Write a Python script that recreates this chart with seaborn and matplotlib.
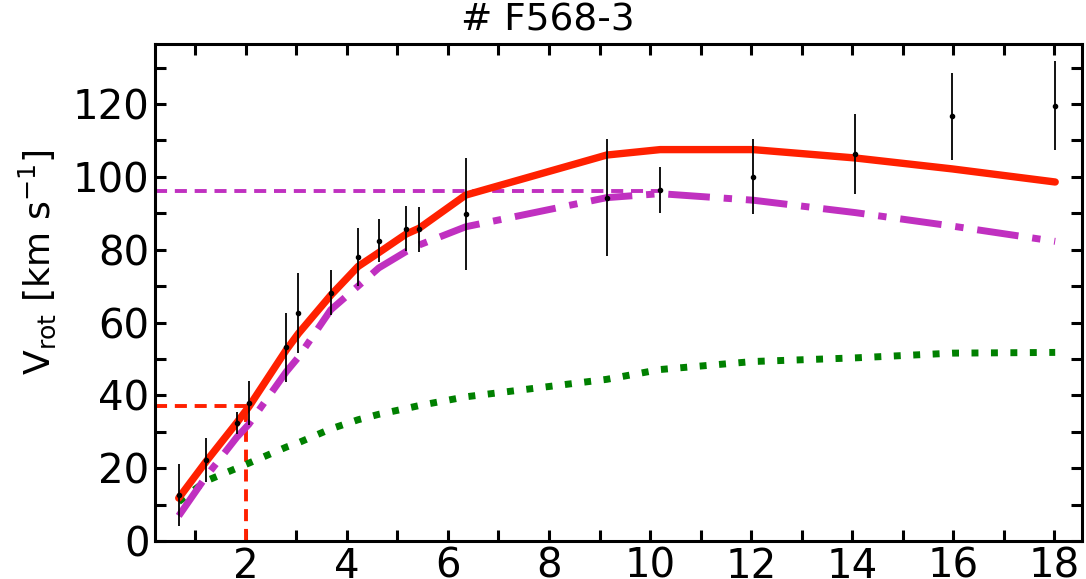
import numpy as np
import pandas as pd
import matplotlib
matplotlib.use("Agg")
import matplotlib.pyplot as plt
import seaborn as sns
from matplotlib.ticker import MultipleLocator

# ---- data ----
r_obs = [0.67, 1.21, 1.82, 2.06, 2.80, 3.04, 3.68, 4.22, 4.63, 5.17, 5.43, 6.35,
         9.14, 10.2, 12.04, 14.06, 15.98, 18.02]
v_obs = [12.6, 22.2, 32.4, 38.0, 53.2, 62.6, 68.2, 78.1, 82.5, 85.8, 85.6, 89.8,
         94.3, 96.4, 100.1, 106.3, 116.6, 119.5]
v_err = [8.6, 6.0, 3.0, 6.0, 9.5, 11.0, 6.2, 8.0, 6.0, 6.2, 6.2, 15.3,
         16.0, 6.3, 10.4, 11.0, 12.0, 12.2]

v_total = [11.8, 21.8, 32.5, 36.9, 52.5, 57.0, 67.5, 75.4, 79.2, 84.3, 85.9, 95.0,
           106.0, 107.5, 107.5, 105.2, 102.2, 98.6]
v_disk = [6.9, 17.7, 28.5, 32.1, 46.5, 50.5, 63.5, 70.0, 75.0, 79.5, 81.3, 86.3,
          94.3, 95.4, 93.6, 90.2, 86.5, 82.3]
v_gas = [10.8, 16.5, 20.0, 21.4, 25.8, 27.0, 30.8, 33.3, 34.8, 36.4, 37.2, 39.6,
         44.4, 47.1, 49.3, 50.3, 51.6, 51.8]

v_max_disk = 96.0
r_max_disk = 10.2
r_ref = 2.0
v_ref = 37.0

title = "# F568-3"

# ---- plot ----
sns.set_style("white")
plt.rcParams['font.family'] = ['DejaVu Sans']
plt.rcParams['text.color'] = 'black'
plt.rcParams['axes.labelcolor'] = 'black'
plt.rcParams['xtick.color'] = 'black'
plt.rcParams['ytick.color'] = 'black'

fig = plt.figure(figsize=(10.86, 5.79), dpi=100)
ax = fig.add_axes([0.1427, 0.0656, 0.8536, 0.8584])

xmin, xmax = 0.2, 18.55
ax.set_xlim(xmin, xmax)
ax.set_ylim(0, 136.5)

df = pd.DataFrame({"r": r_obs, "total": v_total, "disk": v_disk, "gas": v_gas})

dash_style = (0, (3.1, 2.0))
ax.hlines(v_max_disk, xmin, r_max_disk, colors="#c030c0", linestyles=dash_style, lw=2.8, zorder=2)
ax.hlines(v_ref, xmin, r_ref, colors="#ff2000", linestyles=dash_style, lw=2.8, zorder=2)
ax.vlines(r_ref, 0, v_ref, colors="#ff2000", linestyles=dash_style, lw=2.8, zorder=2)

sns.lineplot(data=df, x="r", y="gas", ax=ax, color="#008000", lw=5.0, zorder=3)
ax.lines[-1].set_linestyle((0, (1.0, 1.8)))
sns.lineplot(data=df, x="r", y="disk", ax=ax, color="#c030c0", lw=5, zorder=4)
ax.lines[-1].set_linestyle((0, (6.0, 2.0, 1.2, 2.0)))
sns.lineplot(data=df, x="r", y="total", ax=ax, color="#ff2000", lw=5.3, zorder=5)

ax.errorbar(r_obs, v_obs, yerr=v_err, fmt="o", color="black", ms=3, elinewidth=1.3,
            capsize=0, zorder=6)

ax.set_xlabel("")
ax.set_ylabel(r"$\mathrm{V_{rot}}$ [km s$^{-1}$]", fontsize=26)
ax.yaxis.set_label_coords(-0.105, 0.56)

ax.xaxis.set_major_locator(MultipleLocator(2))
ax.xaxis.set_minor_locator(MultipleLocator(1))
ax.yaxis.set_major_locator(MultipleLocator(20))
ax.yaxis.set_minor_locator(MultipleLocator(10))
ax.tick_params(which="both", direction="in", top=True, right=True, bottom=True, left=True,
               length=8, width=2.2, labelsize=29, pad=4)

for s in ax.spines.values():
    s.set_linewidth(2.2)
    s.set_color("black")

fig.text(0.5046, 0.965, title, ha="center", va="center", fontsize=27)

fig.savefig("out.png", dpi=100)
